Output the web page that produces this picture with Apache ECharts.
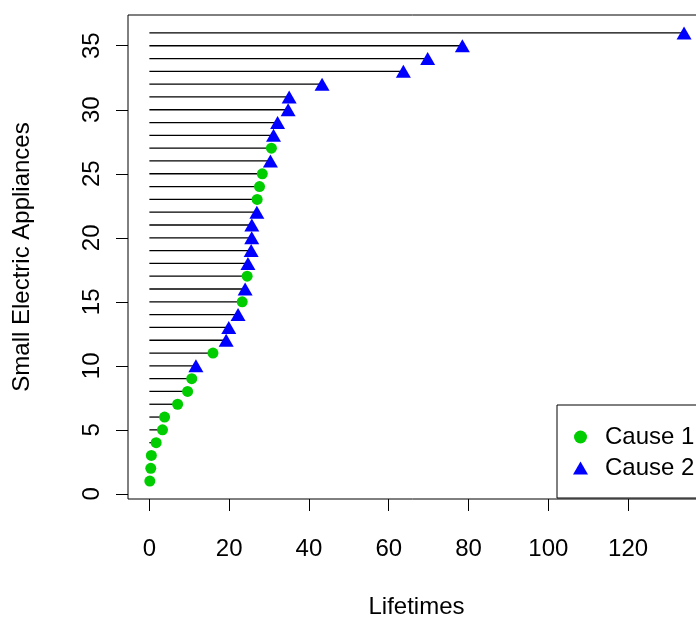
<!DOCTYPE html>
<html>
<head>
<meta charset="utf-8">
<title>Small Electric Appliances</title>
<script src="https://cdn.jsdelivr.net/npm/echarts@6/dist/echarts.min.js"></script>
<style>
  html, body { margin: 0; padding: 0; background: #fff; }
  #chart { width: 696px; height: 618px; }
</style>
</head>
<body>
<div id="chart"></div>
<script>
// appliance number (y) and lifetime
const appliance = [1, 2, 3, 4, 5, 6, 7, 8, 9, 10, 11, 12, 13, 14, 15, 16, 17, 18,
  19, 20, 21, 22, 23, 24, 25, 26, 27, 28, 29, 30, 31, 32, 33, 34, 35, 36];
const lifetime = [0.11, 0.35, 0.49, 1.70, 3.29, 3.81, 7.08, 9.58, 10.62, 11.67, 15.94, 19.25,
  19.90, 22.23, 23.27, 24.00, 24.51, 24.71, 25.51, 25.65, 25.68, 26.94, 27.02, 27.61,
  28.31, 30.34, 30.59, 31.12, 32.14, 34.78, 35.04, 43.29, 63.67, 69.76, 78.46, 134.03];
const cause = [1, 1, 1, 1, 1, 1, 1, 1, 1, 2, 1, 2, 2, 2, 1, 2, 1, 2,
  2, 2, 2, 2, 1, 1, 1, 2, 1, 2, 2, 2, 2, 2, 2, 2, 2, 2];
const xTicks = [0, 20, 40, 60, 80, 100, 120];
const yTicks = [0, 5, 10, 15, 20, 25, 30, 35];

const font = "'Liberation Sans', Arial, Helvetica, sans-serif";

const segData = appliance.map((y, i) => [lifetime[i], y]);
const cause1 = [];
const cause2 = [];
appliance.forEach((y, i) => {
  if (cause[i] === 1) cause1.push([lifetime[i], y]);
  else cause2.push([lifetime[i], y]);
});

const chart = echarts.init(document.getElementById('chart'));

const option = {
  animation: false,
  backgroundColor: '#fff',
  textStyle: { fontFamily: font },
  grid: {
    left: 128,
    top: 15,
    width: 577,
    height: 484,
    outerBoundsMode: 'none',
    containLabel: false,
    show: true,
    borderColor: '#000',
    borderWidth: 1,
    backgroundColor: 'transparent'
  },
  // legend frame (R legend box sits on the bottom-right corner of the plot, runs off the page)
  graphic: [{
    type: 'rect',
    x: 557,
    y: 405,
    shape: { x: 0, y: 0, width: 300, height: 93 },
    style: { fill: '#fff', stroke: '#000', lineWidth: 1 },
    z: 5
  }],
  xAxis: {
    type: 'value',
    min: -5.36,
    max: 139.28,
    name: 'Lifetimes',
    nameLocation: 'middle',
    nameGap: 96,
    nameTextStyle: { fontSize: 24, color: '#000', fontFamily: font },
    axisLine: { show: false, onZero: false },
    axisTick: { show: true, length: 12, lineStyle: { color: '#000', width: 1 }, customValues: xTicks },
    axisLabel: { fontSize: 24, color: '#000', margin: 38, fontFamily: font, customValues: xTicks },
    splitLine: { show: false }
  },
  yAxis: {
    type: 'value',
    min: -0.4,
    max: 37.4,
    name: 'Small Electric Appliances',
    nameLocation: 'middle',
    nameGap: 94,
    nameRotate: 90,
    nameTextStyle: { fontSize: 24, color: '#000', fontFamily: font },
    axisLine: { show: false, onZero: false },
    axisTick: { show: true, length: 12, lineStyle: { color: '#000', width: 1 }, customValues: yTicks },
    axisLabel: { fontSize: 24, color: '#000', margin: 24, rotate: 90, fontFamily: font, customValues: yTicks },
    splitLine: { show: false }
  },
  legend: {
    orient: 'vertical',
    left: 557,
    top: 405,
    padding: [20, 0, 18, 16],
    itemGap: 7,
    itemWidth: 15,
    itemHeight: 13,
    z: 10,
    textStyle: { fontSize: 24, color: '#000', fontFamily: font, padding: [0, 0, 0, 12] },
    data: ['Cause 1', 'Cause 2']
  },
  series: [
    {
      name: 'segments',
      type: 'custom',
      data: segData,
      renderItem: function (params, api) {
        const y = api.value(1);
        const start = api.coord([0, y]);
        const end = api.coord([api.value(0), y]);
        return {
          type: 'line',
          shape: { x1: start[0], y1: start[1], x2: end[0], y2: end[1] },
          style: { stroke: '#000', lineWidth: 1.3 }
        };
      },
      z: 1
    },
    {
      name: 'Cause 1',
      type: 'scatter',
      data: cause1,
      symbol: 'circle',
      symbolSize: 11,
      itemStyle: { color: '#00CD00', opacity: 1 },
      z: 3
    },
    {
      name: 'Cause 2',
      type: 'scatter',
      data: cause2,
      symbol: 'triangle',
      symbolSize: [15, 13],
      itemStyle: { color: '#0000FF', opacity: 1 },
      z: 3
    }
  ]
};

chart.setOption(option);
</script>
</body>
</html>
